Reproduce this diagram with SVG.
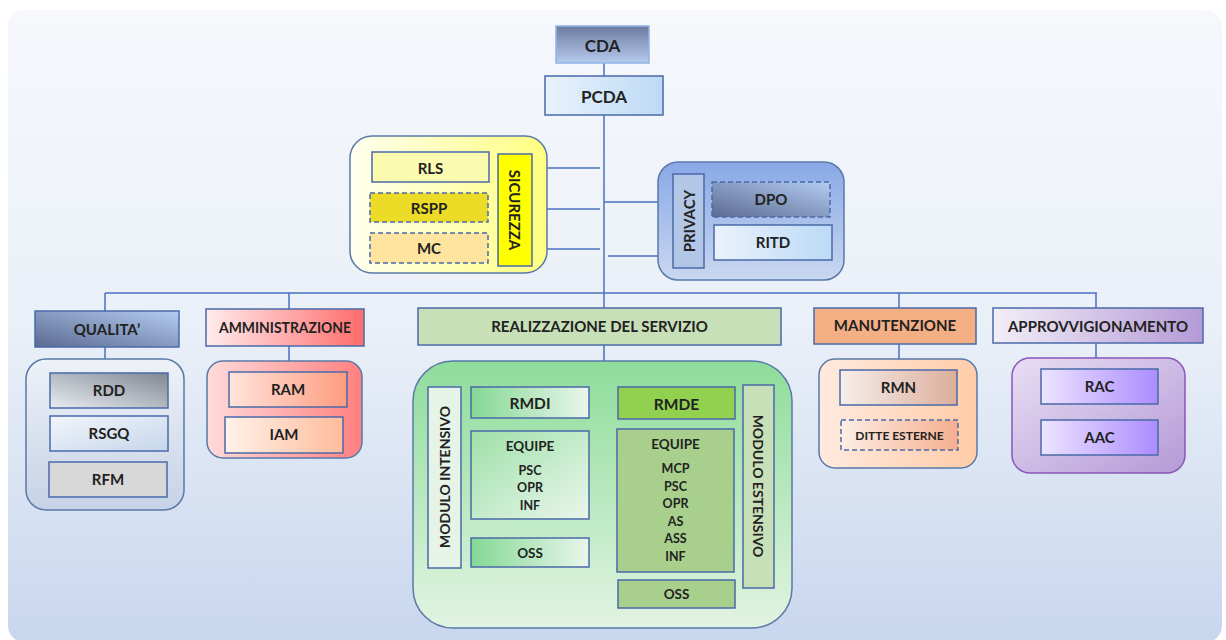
<svg xmlns="http://www.w3.org/2000/svg" width="1226" height="640" viewBox="0 0 1226 640">
<defs>
<style>
text{font-family:Lato,"Open Sans","Liberation Sans",sans-serif;font-weight:bold;fill:#222;text-anchor:middle;dominant-baseline:central}
.b{stroke:#4a6aa8;stroke-width:1.5}
.c{stroke:#5a78a8;stroke-width:1.5}
.d{stroke-dasharray:5 3}
.ln{stroke:#4a72c0;stroke-width:1.5;fill:none}
.t17{font-size:17px}.t15{font-size:15.5px}.t14{font-size:15px}.t13{font-size:13.5px}.t12{font-size:12.5px}.tv{font-size:14px}
</style>
<linearGradient id="bg" x1="0" y1="0" x2="0" y2="1"><stop offset="0" stop-color="#f6f8fc"/><stop offset="0.5" stop-color="#eaf0f8"/><stop offset="1" stop-color="#c8d6ee"/></linearGradient>
<linearGradient id="gCda" x1="0" y1="0" x2="0" y2="1"><stop offset="0" stop-color="#6c7ca0"/><stop offset="1" stop-color="#b6caec"/></linearGradient>
<linearGradient id="gLb" x1="0" y1="0" x2="1" y2="0"><stop offset="0" stop-color="#eaf2fc"/><stop offset="1" stop-color="#bcdaf6"/></linearGradient>
<linearGradient id="gSic" x1="0" y1="0" x2="1" y2="0"><stop offset="0" stop-color="#fffff0"/><stop offset="1" stop-color="#ffff80"/></linearGradient>
<linearGradient id="gPriv" x1="0" y1="0" x2="0" y2="1"><stop offset="0" stop-color="#88a8e6"/><stop offset="1" stop-color="#cad8f0"/></linearGradient>
<linearGradient id="gDark" x1="0" y1="1" x2="1" y2="0"><stop offset="0" stop-color="#5a6a90"/><stop offset="1" stop-color="#b4ccf2"/></linearGradient>
<linearGradient id="gQc" x1="0" y1="0" x2="0" y2="1"><stop offset="0" stop-color="#eef2f8"/><stop offset="1" stop-color="#c6d2e6"/></linearGradient>
<linearGradient id="gRdd" x1="0" y1="1" x2="1" y2="0"><stop offset="0" stop-color="#e8ecf2"/><stop offset="1" stop-color="#808890"/></linearGradient>
<linearGradient id="gRsgq" x1="0" y1="0" x2="1" y2="1"><stop offset="0" stop-color="#f2f5fa"/><stop offset="1" stop-color="#c6d6ec"/></linearGradient>
<linearGradient id="gAmm" x1="0" y1="0" x2="1" y2="0"><stop offset="0" stop-color="#ffecec"/><stop offset="1" stop-color="#ff6c6c"/></linearGradient>
<linearGradient id="gAmmC" x1="0" y1="0" x2="1" y2="0"><stop offset="0" stop-color="#ffdada"/><stop offset="1" stop-color="#ff8080"/></linearGradient>
<linearGradient id="gRam" x1="0" y1="0" x2="1" y2="0"><stop offset="0" stop-color="#ffe4dc"/><stop offset="1" stop-color="#ff9c80"/></linearGradient>
<linearGradient id="gIam" x1="0" y1="0" x2="1" y2="0"><stop offset="0" stop-color="#fff2ea"/><stop offset="1" stop-color="#ffbc9c"/></linearGradient>
<linearGradient id="gGrC" x1="0" y1="0" x2="0" y2="1"><stop offset="0" stop-color="#8edc9a"/><stop offset="1" stop-color="#e2f4e2"/></linearGradient>
<linearGradient id="gGr" x1="0" y1="0" x2="1" y2="0"><stop offset="0" stop-color="#84d894"/><stop offset="1" stop-color="#eaf6ec"/></linearGradient>
<linearGradient id="gGrE" x1="0" y1="0" x2="1" y2="1"><stop offset="0" stop-color="#9ee0a8"/><stop offset="1" stop-color="#eaf6ec"/></linearGradient>
<linearGradient id="gManC" x1="0" y1="0" x2="1" y2="0"><stop offset="0" stop-color="#ffeade"/><stop offset="1" stop-color="#ffcca8"/></linearGradient>
<linearGradient id="gRmn" x1="0" y1="0" x2="1" y2="0"><stop offset="0" stop-color="#f6eeea"/><stop offset="1" stop-color="#dcae9c"/></linearGradient>
<linearGradient id="gDit" x1="0" y1="0" x2="1" y2="0"><stop offset="0" stop-color="#fdeee6"/><stop offset="1" stop-color="#f4ae8e"/></linearGradient>
<linearGradient id="gApp" x1="0" y1="0" x2="1" y2="0"><stop offset="0" stop-color="#f2eef8"/><stop offset="1" stop-color="#b49ad6"/></linearGradient>
<linearGradient id="gAppC" x1="0" y1="0" x2="1" y2="1"><stop offset="0" stop-color="#e8def4"/><stop offset="1" stop-color="#b49ad6"/></linearGradient>
<linearGradient id="gRac" x1="0" y1="0" x2="1" y2="0"><stop offset="0" stop-color="#ece4ff"/><stop offset="1" stop-color="#ac8cff"/></linearGradient>
</defs>

<rect x="8" y="10" width="1214" height="632" rx="16" fill="url(#bg)"/>

<g id="connectors">
<path class="ln" d="M604 63V76M604 115V308M604 345V361"/>
<path class="ln" d="M547 168H600M547 209H600M547 249H600M604 202H658M608 256H658"/>
<path class="ln" d="M105 293H1097M105 293V311M289 293V309M899 293V308M1096 293V308"/>
<path class="ln" d="M105 347V359M289 346V372M286 407V417"/>
<path class="ln" d="M527 418V431M529 519V538M677 419V429M677 572V580"/>
<path class="ln" d="M899 344V370M899 405V420M1096 343V369M1097 404V420"/>
</g>

<g id="cda"><rect x="556" y="26" width="93" height="37" fill="url(#gCda)" stroke="#8fb4e8" stroke-width="1.5"/><text class="t17" x="602.5" y="45">CDA</text></g>
<g id="pcda"><rect class="b" x="545" y="76" width="118" height="39" fill="url(#gLb)"/><text class="t17" x="604" y="96">PCDA</text></g>

<g id="sicurezza">
<rect class="c" x="350" y="136" width="197" height="137" rx="22" fill="url(#gSic)"/>
<rect class="b" x="498" y="154" width="34" height="112" fill="#ffff00"/>
<text class="t14" transform="translate(515 210) rotate(90)">SICUREZZA</text>
</g>
<g id="rls"><rect class="b" x="372" y="152" width="117" height="30" fill="#fbfbb0"/><text class="t14" x="430.5" y="168">RLS</text></g>
<g id="rspp"><rect class="b d" x="370" y="193" width="118" height="29" fill="#ecdc28"/><text class="t14" x="429" y="208">RSPP</text></g>
<g id="mc"><rect class="b d" x="370" y="233" width="118" height="30" fill="#ffe4a0"/><text class="t14" x="429" y="248">MC</text></g>

<g id="privacy">
<rect class="c" x="658" y="162" width="186" height="118" rx="20" fill="url(#gPriv)"/>
<rect class="b" x="673" y="174" width="31" height="94" fill="#b2c6e6"/>
<text class="t14" transform="translate(688.5 221) rotate(-90)">PRIVACY</text>
</g>
<g id="dpo"><rect class="b d" x="712" y="182" width="118" height="35" fill="url(#gDark)"/><text class="t14" x="771" y="199">DPO</text></g>
<g id="ritd"><rect class="b" x="714" y="225" width="118" height="35" fill="url(#gLb)"/><text class="t14" x="773" y="242">RITD</text></g>

<g id="qualita"><rect class="b" x="35" y="311" width="144" height="36" fill="url(#gDark)"/><text class="t14" x="107" y="329">QUALITA’</text></g>
<g id="qualita-group"><rect class="c" x="26" y="359" width="158" height="151" rx="20" fill="url(#gQc)"/></g>
<g id="rdd"><rect class="b" x="50" y="373" width="118" height="35" fill="url(#gRdd)"/><text class="t14" x="109" y="390">RDD</text></g>
<g id="rsgq"><rect class="b" x="50" y="416" width="118" height="35" fill="url(#gRsgq)"/><text class="t14" x="109" y="433">RSGQ</text></g>
<g id="rfm"><rect class="b" x="49" y="462" width="118" height="35" fill="#d8d8d8"/><text class="t14" x="108" y="479">RFM</text></g>

<g id="amministrazione"><rect class="b" x="206" y="309" width="158" height="37" fill="url(#gAmm)"/><text class="t14" x="285" y="327" textLength="132" lengthAdjust="spacingAndGlyphs">AMMINISTRAZIONE</text></g>
<g id="amm-group"><rect class="c" x="207" y="361" width="155" height="97" rx="16" fill="url(#gAmmC)"/></g>
<g id="ram"><rect class="b" x="229" y="372" width="118" height="35" fill="url(#gRam)"/><text class="t14" x="288" y="389">RAM</text></g>
<g id="iam"><rect class="b" x="225" y="417" width="118" height="36" fill="url(#gIam)"/><text class="t14" x="284" y="434">IAM</text></g>

<g id="realizzazione"><rect class="b" x="418" y="308" width="363" height="37" fill="#c8e0b8"/><text class="t14" x="599.5" y="326">REALIZZAZIONE DEL SERVIZIO</text></g>
<g id="servizio-group"><rect class="c" x="413" y="361" width="379" height="267" rx="40" fill="url(#gGrC)"/></g>
<g id="modulo-intensivo"><rect class="b" x="428" y="387" width="33" height="181" fill="#e6f4e8"/><text class="tv" transform="translate(444.5 477) rotate(-90)">MODULO INTENSIVO</text></g>
<g id="rmdi"><rect class="b" x="471" y="387" width="118" height="31" fill="url(#gGr)"/><text class="t15" x="530" y="403">RMDI</text></g>
<g id="equipe-int"><rect class="b" x="471" y="431" width="118" height="88" fill="url(#gGrE)"/>
<text class="t13" x="530" y="446">EQUIPE</text><text class="t12" x="530" y="470">PSC</text><text class="t12" x="530" y="487">OPR</text><text class="t12" x="530" y="505">INF</text></g>
<g id="oss-int"><rect class="b" x="471" y="538" width="118" height="29" fill="url(#gGr)"/><text class="t13" x="530" y="553">OSS</text></g>

<g id="rmde"><rect class="b" x="618" y="387" width="117" height="32" fill="#92d050"/><text class="t15" x="676.5" y="404">RMDE</text></g>
<g id="equipe-ext"><rect class="b" x="617" y="429" width="117" height="143" fill="#a8d08c"/>
<text class="t13" x="675.5" y="444">EQUIPE</text><text class="t12" x="675.5" y="468">MCP</text><text class="t12" x="675.5" y="486">PSC</text><text class="t12" x="675.5" y="503">OPR</text><text class="t12" x="675.5" y="521">AS</text><text class="t12" x="675.5" y="538">ASS</text><text class="t12" x="675.5" y="556">INF</text></g>
<g id="oss-ext"><rect class="b" x="618" y="580" width="117" height="28" fill="#a8d08c"/><text class="t13" x="676.5" y="594">OSS</text></g>
<g id="modulo-estensivo"><rect class="b" x="743" y="385" width="31" height="203" fill="#c8e0b8"/><text class="tv" transform="translate(758.5 486) rotate(90)">MODULO ESTENSIVO</text></g>

<g id="manutenzione"><rect class="b" x="814" y="308" width="162" height="36" fill="#f4b084"/><text class="t14" x="895" y="325">MANUTENZIONE</text></g>
<g id="man-group"><rect class="c" x="819" y="359" width="158" height="109" rx="16" fill="url(#gManC)"/></g>
<g id="rmn"><rect class="b" x="840" y="370" width="117" height="35" fill="url(#gRmn)"/><text class="t14" x="898.5" y="387">RMN</text></g>
<g id="ditte"><rect class="b d" x="841" y="420" width="117" height="30" fill="url(#gDit)"/><text style="font-size:12px" x="899.5" y="435">DITTE ESTERNE</text></g>

<g id="approvvigionamento"><rect class="b" x="993" y="308" width="210" height="35" fill="url(#gApp)"/><text class="t14" x="1098" y="326">APPROVVIGIONAMENTO</text></g>
<g id="app-group"><rect x="1012" y="358" width="173" height="115" rx="18" fill="url(#gAppC)" stroke="#8a56b8" stroke-width="1.5"/></g>
<g id="rac"><rect class="b" x="1041" y="369" width="117" height="35" fill="url(#gRac)"/><text class="t14" x="1099.5" y="386">RAC</text></g>
<g id="aac"><rect class="b" x="1041" y="420" width="117" height="35" fill="url(#gRac)"/><text class="t14" x="1099.5" y="437">AAC</text></g>
</svg>
